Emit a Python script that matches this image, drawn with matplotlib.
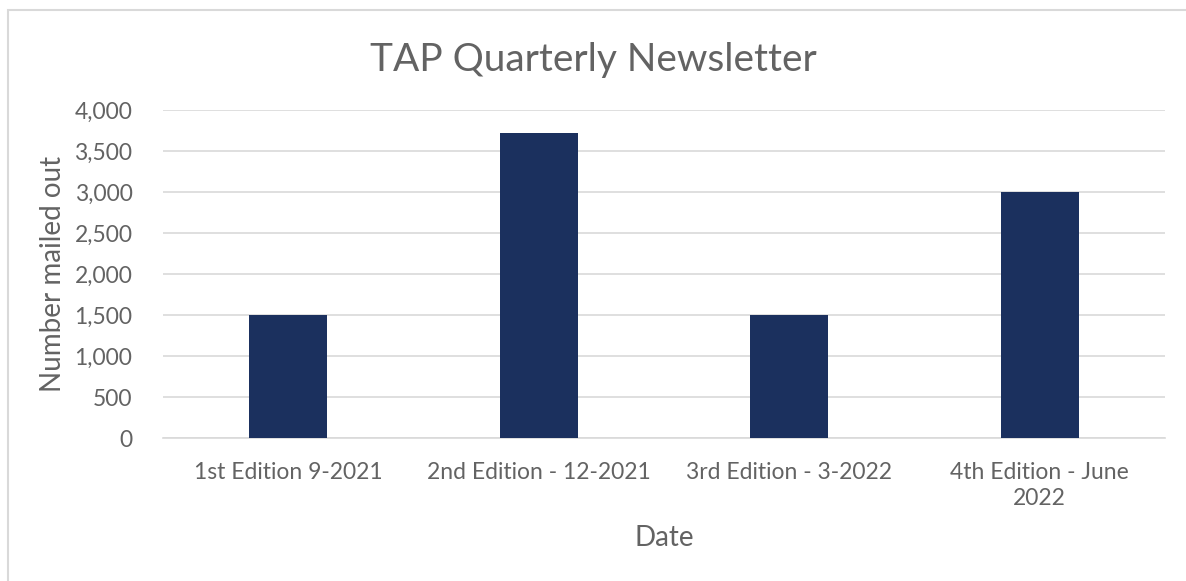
import matplotlib
matplotlib.use("Agg")
import matplotlib.pyplot as plt
from matplotlib.patches import Rectangle
from matplotlib.ticker import FuncFormatter, MultipleLocator

categories = ["1st Edition 9-2021", "2nd Edition - 12-2021", "3rd Edition - 3-2022", "4th Edition - June\n2022"]
mailed = [1500, 3720, 1500, 3000]

bar_color = "#1b305e"
text_color = "#636363"
grid_color = "#d9d9d9"

plt.rcParams["font.family"] = ["Lato", "DejaVu Sans"]

fig = plt.figure(figsize=(11.86, 5.81), dpi=100)
ax = fig.add_axes([0.1374, 0.2461, 0.8449, 0.5646])

# outer chart frame (runs off the right/bottom edges like the screenshot)
fig.patches.append(Rectangle((8 / 1186, -0.05), 1.2, 1 - 10 / 581 + 0.05,
                             transform=fig.transFigure, fill=False,
                             edgecolor=grid_color, linewidth=1.5))

x = range(len(categories))
ax.bar(x, mailed, width=0.31, color=bar_color, zorder=3)

ax.set_xlim(-0.5, len(categories) - 0.5)
ax.set_ylim(0, 4000)
ax.yaxis.set_major_locator(MultipleLocator(500))
ax.yaxis.set_major_formatter(FuncFormatter(lambda v, p: f"{int(v):,}"))
ax.grid(axis="y", color=grid_color, linewidth=1.2, zorder=0)

for s in ["top", "right", "left"]:
    ax.spines[s].set_visible(False)
ax.spines["bottom"].set_color(grid_color)
ax.spines["bottom"].set_linewidth(1.2)

ax.set_xticks(list(x))
ax.set_xticklabels(categories, fontsize=16.5, color=text_color, linespacing=1.3)
ax.tick_params(axis="both", length=0, labelsize=16.5, labelcolor=text_color)
ax.tick_params(axis="x", pad=17)
ax.tick_params(axis="y", pad=22)

ax.set_xlabel("Date", fontsize=20, color=text_color, labelpad=12)
ax.set_ylabel("Number mailed out", fontsize=20, color=text_color, labelpad=6)
fig.suptitle("TAP Quarterly Newsletter", fontsize=28, color=text_color, y=0.928)

fig.savefig("out.png", dpi=100)
